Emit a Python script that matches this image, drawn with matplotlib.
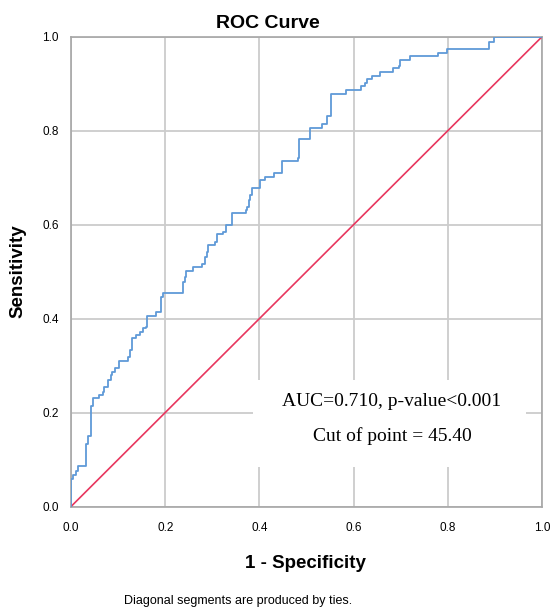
import matplotlib
matplotlib.use('Agg')
import matplotlib.pyplot as plt
from matplotlib.patches import Rectangle

# ROC step curve: false positive rate where each jump happens, sensitivity after it
fpr = [0.0, 0.0, 0.005, 0.011, 0.014, 0.032, 0.035, 0.042, 0.046, 0.060,
       0.067, 0.070, 0.079, 0.084, 0.088, 0.093, 0.102, 0.121, 0.125, 0.129,
       0.139, 0.146, 0.153, 0.159, 0.162, 0.180, 0.192, 0.196, 0.237, 0.242,
       0.245, 0.259, 0.279, 0.284, 0.288, 0.291, 0.305, 0.310, 0.323, 0.328,
       0.341, 0.371, 0.374, 0.378, 0.381, 0.385, 0.402, 0.411, 0.430, 0.447,
       0.482, 0.484, 0.508, 0.532, 0.544, 0.553, 0.583, 0.616, 0.624, 0.628,
       0.640, 0.655, 0.684, 0.696, 0.698, 0.720, 0.780, 0.798, 0.887, 0.897,
       1.0]
tpr = [0.0, 0.058, 0.067, 0.075, 0.087, 0.133, 0.151, 0.214, 0.230, 0.237,
       0.244, 0.255, 0.270, 0.280, 0.287, 0.294, 0.310, 0.319, 0.333, 0.358,
       0.365, 0.372, 0.379, 0.383, 0.405, 0.414, 0.446, 0.455, 0.478, 0.489,
       0.502, 0.510, 0.517, 0.531, 0.542, 0.556, 0.563, 0.581, 0.585, 0.599,
       0.624, 0.631, 0.638, 0.652, 0.663, 0.677, 0.695, 0.702, 0.710, 0.735,
       0.741, 0.783, 0.805, 0.815, 0.831, 0.878, 0.886, 0.895, 0.902, 0.911,
       0.916, 0.925, 0.934, 0.938, 0.950, 0.958, 0.966, 0.974, 0.988, 1.0,
       1.0]
ref_line = [0.0, 1.0]
ticks = [0.0, 0.2, 0.4, 0.6, 0.8, 1.0]
tick_labels = ['0.0', '0.2', '0.4', '0.6', '0.8', '1.0']
auc_text = 'AUC=0.710, p-value<0.001'
cut_text = 'Cut of point = 45.40'

plt.rcParams['font.family'] = ['Liberation Sans', 'DejaVu Sans']

fig = plt.figure(figsize=(5.51, 6.08), dpi=100)
ax = fig.add_axes([0.1289, 0.1669, 0.8548, 0.7727])

ax.plot(ref_line, ref_line, color='#e8365e', lw=1.2, zorder=3)
ax.plot(fpr, tpr, drawstyle='steps-post', color='#5f9ad8', lw=1.3, zorder=4)

ax.set_xlim(0, 1)
ax.set_ylim(0, 1)
ax.set_xticks(ticks)
ax.set_yticks(ticks)
ax.set_xticklabels(tick_labels, fontsize=8.5)
ax.set_yticklabels(tick_labels, fontsize=8.5)
ax.tick_params(length=0, pad=9)
ax.tick_params(axis='x', pad=11)
ax.grid(True, color='#cccccc', lw=1.3)
ax.set_axisbelow(True)
for sp in ax.spines.values():
    sp.set_color('#a6a6a6')
    sp.set_linewidth(1.2)

# white box behind the AUC annotation hides the grid
ax.add_patch(Rectangle((0.386, 0.084), 0.581, 0.185, facecolor='white',
                       edgecolor='none', zorder=2))
ax.text(0.681, 0.224, auc_text, ha='center', va='center', fontsize=14,
        family='Liberation Serif', zorder=5)
ax.text(0.683, 0.149, cut_text, ha='center', va='center', fontsize=14,
        family='Liberation Serif', zorder=5)

fig.text(268 / 551, 1 - 23 / 608, 'ROC Curve', ha='center', va='center',
         fontsize=14, fontweight='bold')
fig.text(305 / 551, 1 - 563 / 608, '1 - Specificity', ha='center',
         va='center', fontsize=13.5, fontweight='bold')
fig.text(18 / 551, 1 - 271 / 608, 'Sensitivity', ha='center', va='center',
         rotation=90, fontsize=13.5, fontweight='bold')
fig.text(238 / 551, 1 - 601 / 608, 'Diagonal segments are produced by ties.',
         ha='center', va='center', fontsize=9)

fig.savefig('out.png', dpi=100)
